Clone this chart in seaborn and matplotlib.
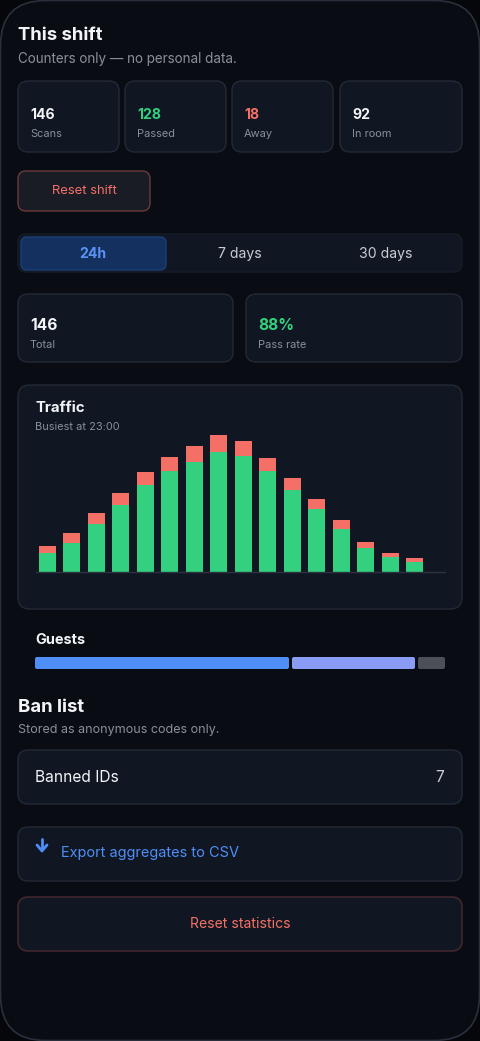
import matplotlib
matplotlib.use("Agg")
import matplotlib.pyplot as plt
from matplotlib.patches import FancyBboxPatch
import seaborn as sns
import pandas as pd

sns.set_theme(style="dark")
plt.rcParams['font.family'] = ['Inter', 'DejaVu Sans']

# ---- data ----
hours = [f"{h:02d}" for h in range(16)]
totals = [8.1, 11.8, 18.0, 24.3, 30.6, 35.3, 38.5, 41.9, 40.0, 35.0, 28.7, 22.3, 15.9, 9.1, 5.9, 4.2]
passed = [5.9, 8.8, 14.7, 20.6, 26.6, 30.8, 33.8, 36.8, 35.4, 30.9, 25.0, 19.2, 13.3, 7.4, 4.5, 3.1]
stat_values = ["146", "128", "18", "92"]
stat_labels = ["Scans", "Passed", "Away", "In room"]
guest_segments = [254, 123, 27]
tabs = ["24h", "7 days", "30 days"]

BG = "#090c13"; CARD = "#111722"; EDGE = "#232a36"
GREEN = "#33d17f"; RED = "#f47067"; BLUE = "#4f8ef7"; GREY = "#8a909a"; WHITE = "#f2f4f7"

W, H = 480, 1041
fig = plt.figure(figsize=(W/100, H/100), dpi=100)
fig.patch.set_facecolor("#05070b")
ax = fig.add_axes([0, 0, 1, 1])
ax.set_xlim(0, W); ax.set_ylim(H, 0); ax.axis("off")

def box(x0, y0, x1, y1, fc=CARD, ec=EDGE, r=10, lw=1.0, z=1):
    ax.add_patch(FancyBboxPatch((x0, y0), x1-x0, y1-y0, boxstyle=f"round,pad=0,rounding_size={r}",
                                fc=fc, ec=ec, lw=lw, zorder=z))

def txt(x, y, s, size, color=WHITE, weight="normal", ha="left"):
    ax.text(x, y, s, fontsize=size*0.72, color=color, weight=weight, ha=ha, va="center", zorder=5)

box(0.5, 0.5, 479.5, 1040.5, fc=BG, ec="#2a303b", r=45, lw=1.2, z=0)

txt(18, 36, "This shift", 18.5, weight="bold")
txt(18, 59, "Counters only — no personal data.", 13.5, color=GREY)
cards = [(18, 119), (125, 226), (232, 333), (340, 462)]
vcolors = [WHITE, GREEN, RED, WHITE]
for (x0, x1), v, l, c in zip(cards, stat_values, stat_labels, vcolors):
    box(x0, 81, x1, 152)
    txt(x0+12, 115, v, 14, color=c, weight="bold")
    txt(x0+12, 134, l, 11, color=GREY)

box(18, 171, 150, 211, fc="#1a1c25", ec="#6b3a3a", r=8)
txt(84, 191, "Reset shift", 13, color=RED, ha="center")

box(18, 234, 462, 272, fc="#111722", ec="#161c27", r=8)
box(21, 237, 166, 270, fc="#13305f", ec="#1d3f78", r=6, z=2)
for x, t, c in zip([93, 240, 386], tabs, ["#5b93f5", "#c9ccd2", "#c9ccd2"]):
    txt(x, 254, t, 14, color=c, weight="bold" if t == "24h" else "normal", ha="center")

box(18, 294, 233, 362)
box(246, 294, 462, 362)
txt(30, 325, "146", 15.5, weight="bold"); txt(30, 345, "Total", 11, color=GREY)
txt(258, 325, "88%", 15.5, color=GREEN, weight="bold"); txt(258, 345, "Pass rate", 11, color=GREY)

box(18, 385, 462, 609, r=12)
txt(35, 408, "Traffic", 15, weight="bold")
txt(35, 427, "Busiest at 23:00", 11, color=GREY)

# chart
cax = fig.add_axes([36/W, 1-572/H, (445-36)/W, (572-430)/H])
df = pd.DataFrame({"hour": hours, "total": totals, "passed": passed})
sns.barplot(data=df, x="hour", y="total", color=RED, saturation=1, width=0.69, linewidth=0, ax=cax)
sns.barplot(data=df, x="hour", y="passed", color=GREEN, saturation=1, width=0.69, linewidth=0, ax=cax)
cax.set_facecolor("none")
cax.set_xlim(-0.465, 16.23)
cax.set_ylim(0, 43.5)
cax.set_xticks([]); cax.set_yticks([]); cax.set_xlabel(""); cax.set_ylabel("")
for s in ["top", "right", "left"]:
    cax.spines[s].set_visible(False)
cax.spines["bottom"].set_color("#2c3340"); cax.spines["bottom"].set_linewidth(1)

txt(35, 640, "Guests", 14.5, weight="bold")
gx = 35
for w, c in zip(guest_segments, [BLUE, "#8b9cf6", "#4a4f58"]):
    box(gx, 657, gx+w, 669, fc=c, ec="none", r=2, z=2)
    gx += w + 3

txt(18, 708, "Ban list", 18.5, weight="bold")
txt(18, 730, "Stored as anonymous codes only.", 12.5, color=GREY)
box(18, 750, 462, 804, r=10)
txt(35, 777, "Banned IDs", 15.5)
txt(444, 777, "7", 15.5, color="#c9ccd2", ha="right")

box(18, 827, 462, 881, r=10)
ax.plot([42, 42], [839, 849], color=BLUE, lw=2, solid_capstyle="round", zorder=5)
ax.plot([37, 42, 47], [845, 851, 845], color=BLUE, lw=2, solid_capstyle="round",
        solid_joinstyle="round", zorder=5)
txt(61, 853, "Export aggregates to CSV", 14.5, color=BLUE)

box(18, 897, 462, 951, fc="#111722", ec="#4a2a2e", r=10)
txt(240, 924, "Reset statistics", 14, color=RED, ha="center")

fig.savefig("out.png", dpi=100, facecolor=fig.get_facecolor())
